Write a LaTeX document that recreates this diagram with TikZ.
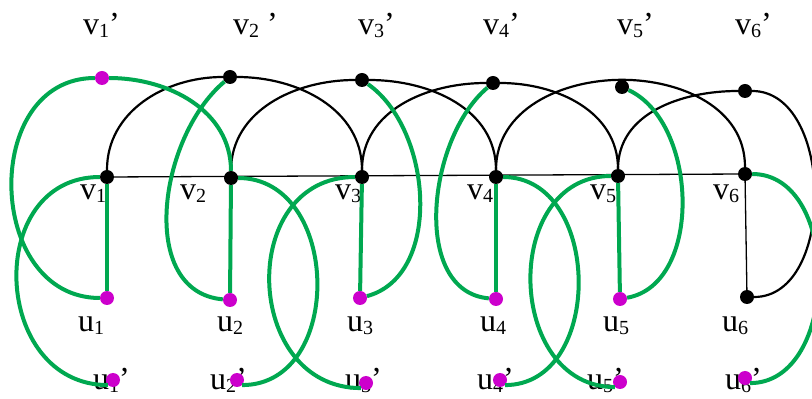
\documentclass[tikz,border=0pt]{standalone}
\usepackage{fontspec}
\setmainfont{Liberation Serif}
\usepackage{tikz}
\usetikzlibrary{positioning}

\definecolor{arcgreen}{RGB}{0,168,80}
\definecolor{dotmag}{RGB}{204,0,204}

% lowered index of a label
\newcommand{\ix}[1]{\raisebox{-3pt}{\fontsize{20pt}{20pt}\selectfont #1}}

\begin{document}
\begin{tikzpicture}[
    x=1pt, y=1pt,
    vdot/.style={circle, fill=black, inner sep=0pt, minimum size=14pt},
    mdot/.style={vdot, fill=dotmag},
    lab/.style={anchor=base west, inner sep=0pt, font=\fontsize{32pt}{36pt}\selectfont},
    garc/.style={draw=arcgreen, line width=4pt},
    barc/.style={draw=black, line width=2.2pt},
    bline/.style={draw=black, line width=1.3pt}
]
\useasboundingbox (0,0) rectangle (812,399);

% --- Labels ---
\node[lab] (lv1p) at (83,364)  {v\ix{1}’};
\node[lab] (lv2p) at (233,364) {v\ix{2} ’};
\node[lab] (lv3p) at (358,364) {v\ix{3}’};
\node[lab] (lv4p) at (483,364) {v\ix{4}’};
\node[lab] (lv5p) at (617,364) {v\ix{5}’};
\node[lab] (lv6p) at (735,364) {v\ix{6}’};

\node[lab] (lv1) at (80,199)  {v\ix{1}};
\node[lab] (lv2) at (180,199) {v\ix{2}};
\node[lab] (lv3) at (335,199) {v\ix{3}};
\node[lab] (lv4) at (467,199) {v\ix{4}};
\node[lab] (lv5) at (590,199) {v\ix{5}};
\node[lab] (lv6) at (713,199) {v\ix{6}};

\node[lab] (lu1) at (78,67)  {u\ix{1}};
\node[lab] (lu2) at (217,67) {u\ix{2}};
\node[lab] (lu3) at (347,67) {u\ix{3}};
\node[lab] (lu4) at (480,67) {u\ix{4}};
\node[lab] (lu5) at (603,67) {u\ix{5}};
\node[lab] (lu6) at (722,67) {u\ix{6}};

\node[lab] (lu1p) at (93,9)  {u\ix{1}’};
\node[lab] (lu2p) at (210,9) {u\ix{2}’};
\node[lab] (lu3p) at (345,9) {u\ix{3}’};
\node[lab] (lu4p) at (477,9) {u\ix{4}’};
\node[lab] (lu5p) at (587,9) {u\ix{5}’};
\node[lab] (lu6p) at (725,9) {u\ix{6}’};

% --- Vertices ---
\node[mdot] (v1p) at (102,321) {};
\node[vdot] (v2p) at (230,322) {};
\node[vdot] (v3p) at (362,319) {};
\node[vdot] (v4p) at (493,316) {};
\node[vdot] (v5p) at (622,312) {};
\node[vdot] (v6p) at (745,308) {};

\node[vdot] (v1) at (107,222) {};
\node[vdot] (v2) at (231,221) {};
\node[vdot] (v3) at (362,222) {};
\node[vdot] (v4) at (496,222) {};
\node[vdot] (v5) at (618,223) {};
\node[vdot] (v6) at (745,225) {};

\node[mdot] (u1) at (107,101) {};
\node[mdot] (u2) at (230,99)  {};
\node[mdot] (u3) at (360,101) {};
\node[mdot] (u4) at (496,100) {};
\node[mdot] (u5) at (620,100) {};
\node[vdot] (u6) at (747,102) {};

\node[mdot] (u1p) at (113,19) {};
\node[mdot] (u2p) at (237,19) {};
\node[mdot] (u3p) at (366,16) {};
\node[mdot] (u4p) at (500,19) {};
\node[mdot] (u5p) at (620,17) {};
\node[mdot] (u6p) at (745,21) {};

% --- Black path and arcs ---
\path
(v1) edge[bline] (v6)
(v6) edge[bline] (u6)

(v1)  edge[barc, out=90, in=180] (v2p)
(v2p) edge[barc, out=0, in=90]   (v3)
(v2)  edge[barc, out=90, in=180] (v3p)
(v3p) edge[barc, out=0, in=90]   (v4)
(v3)  edge[barc, out=90, in=180] (v4p)
(v4p) edge[barc, out=0, in=90]   (v5)
(v4)  edge[barc, out=90, in=180] (v5p.north)
(v5p.north) edge[barc, out=0, in=90] (v6)
(v5)  edge[barc, out=90, in=180] (v6p)
(v6p) edge[barc, out=0, in=0, looseness=1.02] (u6);

% --- Green rungs and arcs ---
\path
(v1) edge[garc] (u1)
(v2) edge[garc] (u2)
(v3) edge[garc] (u3)
(v4) edge[garc] (u4)
(v5) edge[garc] (u5)

% upper arcs
(v1p) edge[garc, out=0, in=90] (v2)
(v1p) edge[garc, out=180, in=180, looseness=1.33] (u1)
(v2p) edge[garc, out=220, in=175, looseness=1.01] (u2)
(v3p) edge[garc, out=-35, in=15, looseness=0.95]  (u3)
(v4p) edge[garc, out=220, in=175, looseness=0.95] (u4)
(v5p) edge[garc, out=-25, in=10, looseness=0.95]  (u5)

% lower arcs
(v1) edge[garc, out=180, in=180, looseness=1.43] (u1p.south west)
(v2) edge[garc, out=0, in=0, looseness=1.27]     (u2p.south east)
(v3) edge[garc, out=180, in=180, looseness=1.43] (u3p.south west)
(v4) edge[garc, out=0, in=0, looseness=1.22]     (u4p.south east)
(v5) edge[garc, out=180, in=180, looseness=1.33] (u5p.south west)
(v6) edge[garc, out=0, in=0, looseness=1.1]      (u6p.south east);

\end{tikzpicture}
\end{document}
